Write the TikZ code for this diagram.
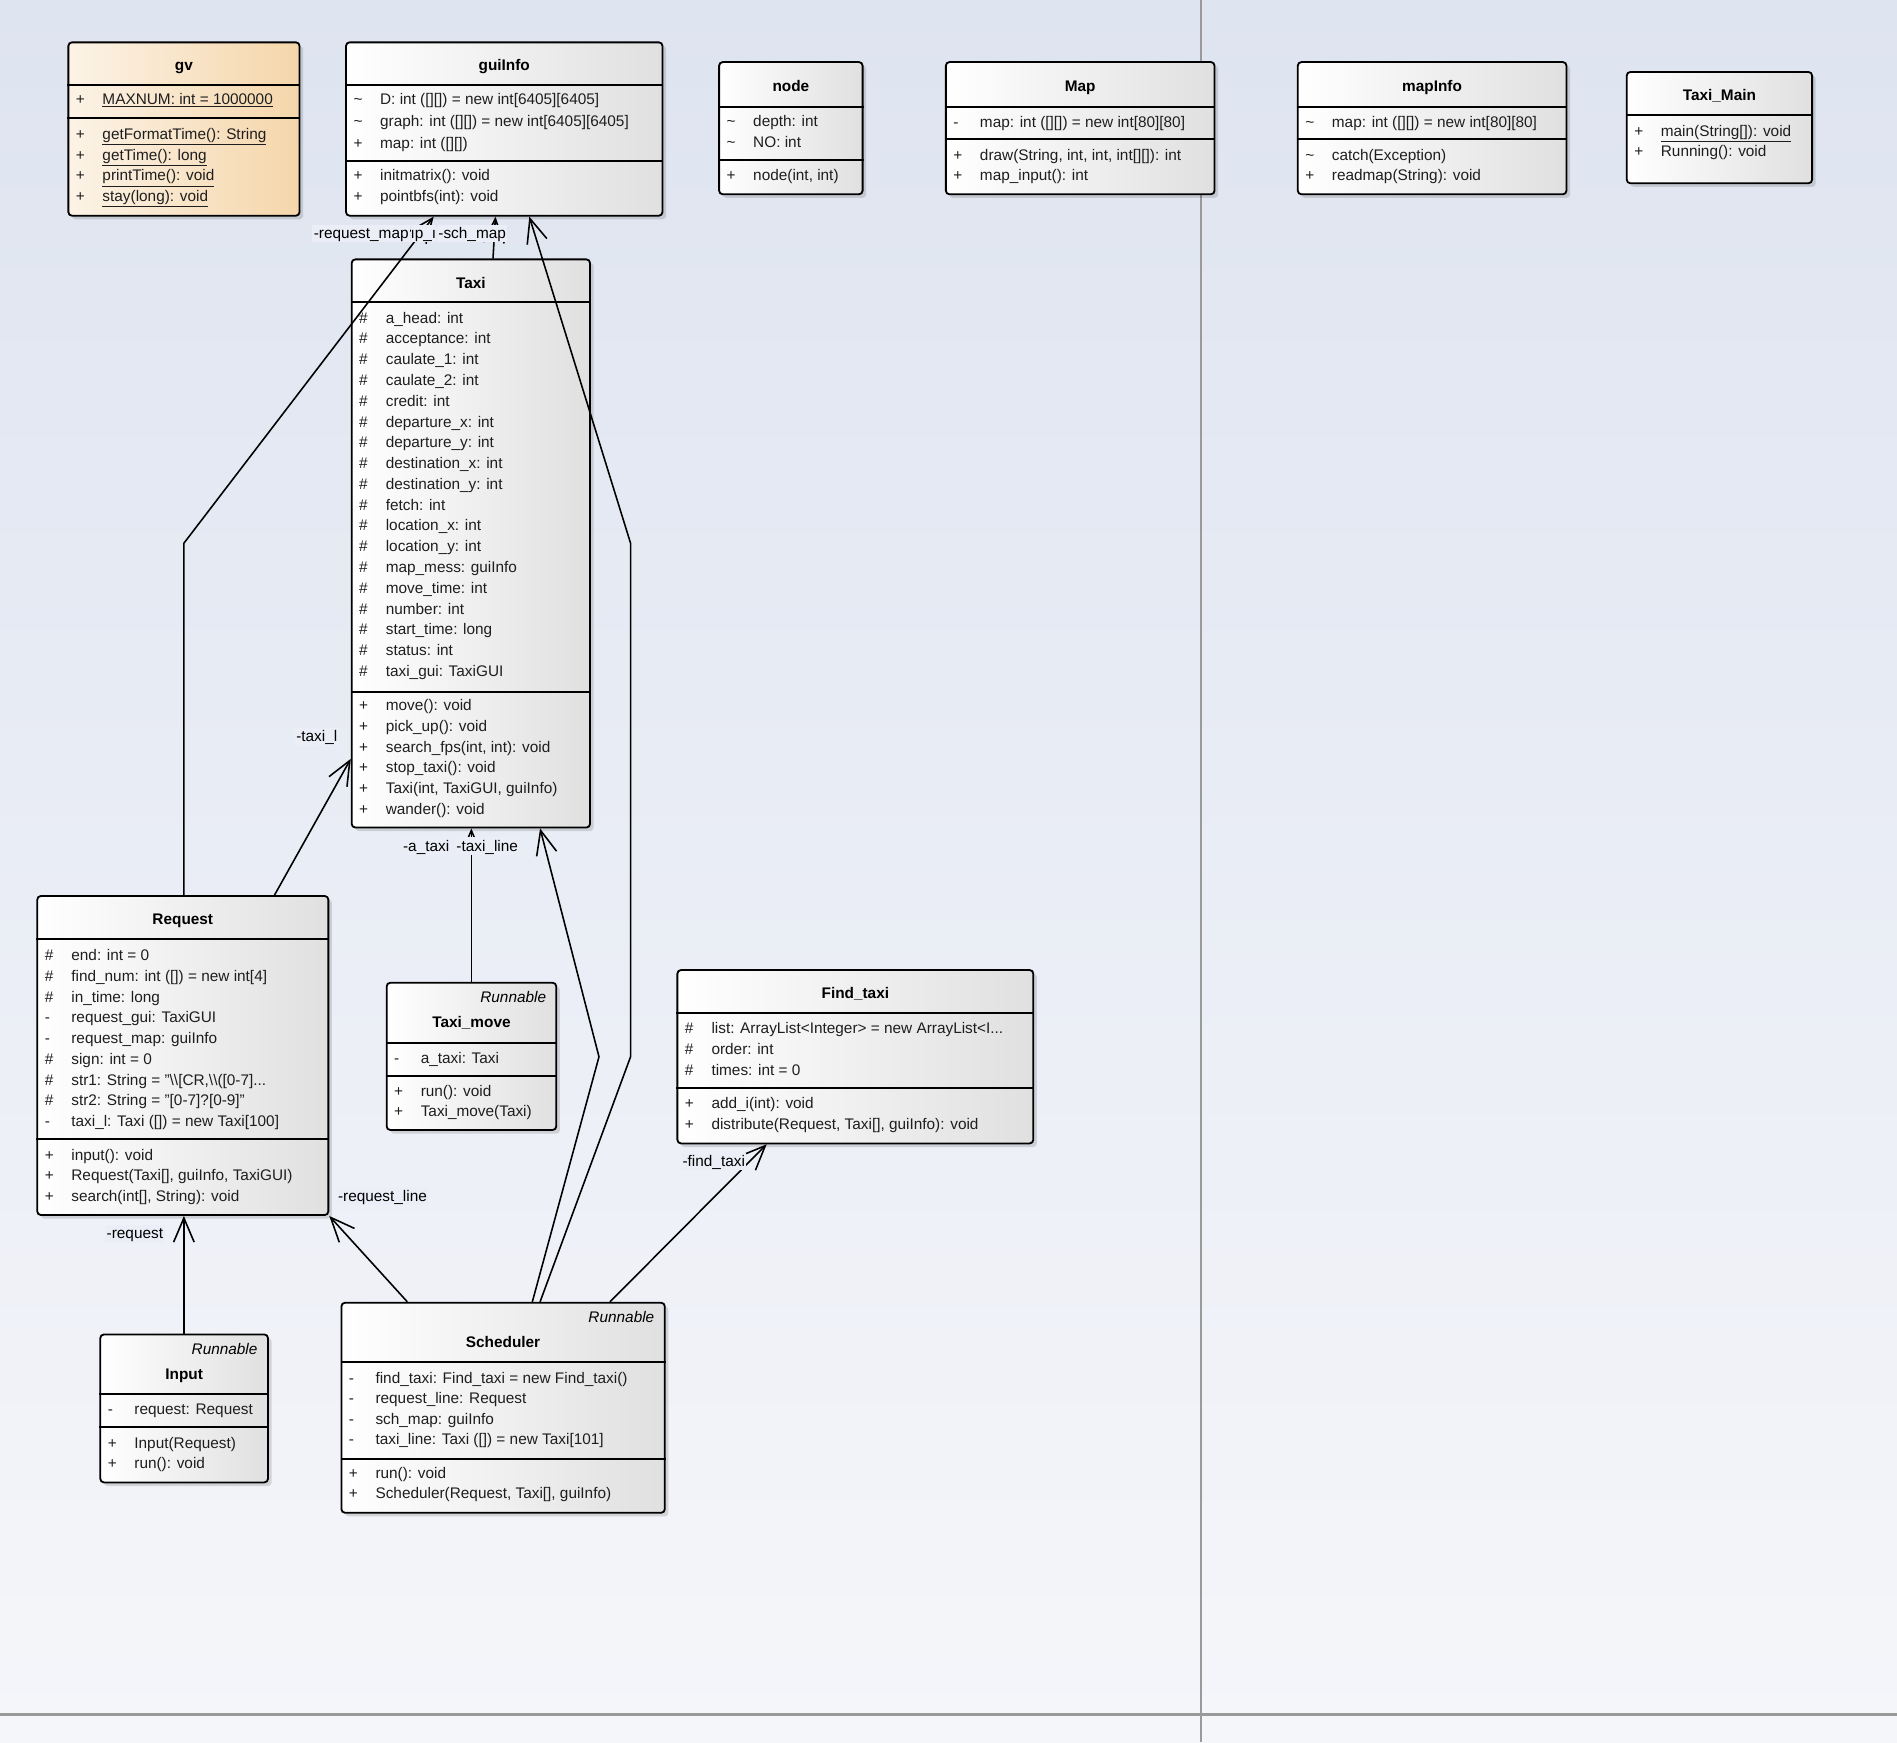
\documentclass[tikz,border=0pt]{standalone}
\usepackage{fontspec}
\setmainfont{Liberation Sans}
\usetikzlibrary{arrows.meta,shadows,fit,calc}
\definecolor{bgtop}{HTML}{DEE4F0}
\definecolor{bgbot}{HTML}{F5F6FA}
\definecolor{boxright}{HTML}{E0E0E0}
\definecolor{gvleft}{HTML}{FCF3E7}
\definecolor{gvright}{HTML}{F5D6AA}
\definecolor{txtc}{HTML}{1E1E1E}
\definecolor{lblbg}{HTML}{EBEEF6}
\definecolor{sepline}{HTML}{9A9A9A}
\tikzset{
  classbox/.style={draw=black, line width=1.5pt, rounded corners=3pt, inner sep=0pt,
    left color=white, right color=boxright,
    drop shadow={shadow xshift=3pt, shadow yshift=-3pt, fill=black, opacity=0.13}},
  gvbox/.style={classbox, left color=gvleft, right color=gvright},
  visn/.style={anchor=west, inner sep=0pt, text height=10pt, text depth=2pt, text=txtc},
  memn/.style={visn},
  titlen/.style={inner sep=0pt, text height=10pt, text depth=2pt, font=\fontsize{12.7}{15}\selectfont\bfseries},
  stereo/.style={anchor=east, inner sep=0pt, text height=10pt, text depth=2pt, font=\fontsize{12.7}{15}\selectfont\itshape},
  lbl/.style={anchor=west, fill=lblbg, inner sep=1.2pt, text height=10pt, text depth=2pt},
  divl/.style={line width=1.5pt},
  assoc/.style={line width=1.3pt, -{Straight Barb[length=20pt,width=17pt]}},
}
\newcommand\members[5]{%
  \foreach \mvis/\mtxt [count=\ii] in {#5} {
    \node[visn] (#1v\ii) at ({#2+6},{#3+#4*(\ii-1)}) {\mvis};
    \node[memn] (#1t\ii) at ({#2+28},{#3+#4*(\ii-1)}) {\mtxt};
  }}
\newcommand\divider[2]{\draw[divl] (#1.west |- 0,#2) -- (#1.east |- 0,#2);}
\begin{document}
\begin{tikzpicture}[x=1pt,y=-1pt,font=\fontsize{12.7}{15}\selectfont]
\useasboundingbox (0,0) rectangle (1568,1440);
% background
\shade[top color=bgtop, bottom color=bgbot] (0,0) rectangle (1568,1440);
\draw[sepline, line width=1.8pt] (993,0) -- (993,1440);
\draw[sepline, line width=2.2pt] (0,1417.3) -- (1568,1417.3);

% ---------- gv ----------
\node[gvbox, fit={(56.5,35) (247.6,178.3)}] (gv) {};
\node[titlen] (gvtitle) at (152,54.3) {gv};
\divider{gv}{70.5}\divider{gv}{97.8}
\members{gva}{56.5}{82.7}{17}{+/{\underline{MAXNUM: int = 1000000}}}
\members{gvm}{56.5}{111.6}{17}{+/{\underline{getFormatTime(): String}},+/{\underline{getTime(): long}},+/{\underline{printTime(): void}},+/{\underline{stay(long): void}}}

% ---------- guiInfo ----------
\node[classbox, fit={(286,35) (547.6,178.3)}] (gui) {};
\node[titlen] (guititle) at (416.8,54.3) {guiInfo};
\divider{gui}{70.5}\divider{gui}{132.8}
\members{guia}{286}{82.7}{17.9}{\textasciitilde/{D: int ([][]) = new int[6405][6405]},\textasciitilde/{graph: int ([][]) = new int[6405][6405]},+/{map: int ([][])}}
\members{guim}{286}{145.2}{17.4}{+/{initmatrix(): void},+/{pointbfs(int): void}}

% ---------- node ----------
\node[classbox, fit={(594.4,51.3) (713,160.6)}] (nodecl) {};
\node[titlen] (nodetitle) at (653.7,71.9) {node};
\divider{nodecl}{88.2}\divider{nodecl}{132.5}
\members{nodea}{594.4}{100.6}{17.3}{\textasciitilde/{depth: int},\textasciitilde/{NO: int}}
\members{nodem}{594.4}{145.5}{17}{+/{node(int, int)}}

% ---------- Map ----------
\node[classbox, fit={(781.8,51.3) (1003.9,160.6)}] (map) {};
\node[titlen] (maptitle) at (892.8,71.9) {Map};
\divider{map}{88.2}\divider{map}{115.2}
\members{mapa}{781.8}{101.4}{17}{-/{map: int ([][]) = new int[80][80]}}
\members{mapm}{781.8}{129}{16.5}{+/{draw(String, int, int, int[][]): int},+/{map\_input(): int}}

% ---------- mapInfo ----------
\node[classbox, fit={(1072.7,51.3) (1294.8,160.6)}] (mapinfo) {};
\node[titlen] (mapinfotitle) at (1183.7,71.9) {mapInfo};
\divider{mapinfo}{88.2}\divider{mapinfo}{115.2}
\members{mia}{1072.7}{101.4}{17}{\textasciitilde/{map: int ([][]) = new int[80][80]}}
\members{mim}{1072.7}{129}{16.5}{\textasciitilde/{catch(Exception)},+/{readmap(String): void}}

% ---------- Taxi_Main ----------
\node[classbox, fit={(1344.6,59.5) (1497.8,151.5)}] (taximain) {};
\node[titlen] (taximaintitle) at (1421.2,79.1) {Taxi\_Main};
\divider{taximain}{95.3}
\members{tmm}{1344.6}{108.8}{16.6}{+/{\underline{main(String[]): void}},+/{Running(): void}}

% ---------- Taxi ----------
\node[classbox, fit={(290.7,214.4) (487.7,684)}] (taxi) {};
\node[titlen] (taxititle) at (389.2,234.2) {Taxi};
\divider{taxi}{249.9}\divider{taxi}{571.7}
\members{taxia}{290.7}{263.1}{17.18}{\#/{a\_head: int},\#/{acceptance: int},\#/{caulate\_1: int},\#/{caulate\_2: int},\#/{credit: int},\#/{departure\_x: int},\#/{departure\_y: int},\#/{destination\_x: int},\#/{destination\_y: int},\#/{fetch: int},\#/{location\_x: int},\#/{location\_y: int},\#/{map\_mess: guiInfo},\#/{move\_time: int},\#/{number: int},\#/{start\_time: long},\#/{status: int},\#/{taxi\_gui: TaxiGUI}}
\members{taxim}{290.7}{583.3}{17.14}{+/{move(): void},+/{pick\_up(): void},+/{search\_fps(int, int): void},+/{stop\_taxi(): void},+/{Taxi(int, TaxiGUI, guiInfo)},+/{wander(): void}}

% ---------- Request ----------
\node[classbox, fit={(30.8,740.6) (271.4,1004.3)}] (request) {};
\node[titlen] (requesttitle) at (151.1,759.9) {Request};
\divider{request}{775.9}\divider{request}{941.5}
\members{reqa}{30.8}{790}{17.15}{\#/{end: int = 0},\#/{find\_num: int ([]) = new int[4]},\#/{in\_time: long},-/{request\_gui: TaxiGUI},-/{request\_map: guiInfo},\#/{sign: int = 0},\#/{str1: String = "\textbackslash\textbackslash[CR,\textbackslash\textbackslash([0-7]...},\#/{str2: String = "[0-7]?[0-9]"},-/{taxi\_l: Taxi ([]) = new Taxi[100]}}
\members{reqm}{30.8}{955.3}{16.7}{+/{input(): void},+/{Request(Taxi[], guiInfo, TaxiGUI)},+/{search(int[], String): void}}

% ---------- Taxi_move ----------
\node[classbox, fit={(319.6,812.3) (459.8,934)}] (taximove) {};
\node[stereo] (taximovest) at (451.6,824.5) {Runnable};
\node[titlen] (taximovetitle) at (389.7,845.4) {Taxi\_move};
\divider{taximove}{861.9}\divider{taximove}{889.1}
\members{tmva}{319.6}{875.4}{17}{-/{a\_taxi: Taxi}}
\members{tmvm}{319.6}{902.1}{16.5}{+/{run(): void},+/{Taxi\_move(Taxi)}}

% ---------- Find_taxi ----------
\node[classbox, fit={(559.9,801.8) (854.1,945.1)}] (findtaxi) {};
\node[titlen] (findtaxititle) at (707,821.1) {Find\_taxi};
\divider{findtaxi}{837.1}\divider{findtaxi}{899.6}
\members{fta}{559.9}{850.6}{17}{\#/{list: ArrayList<Integer> = new ArrayList<I...},\#/{order: int},\#/{times: int = 0}}
\members{ftm}{559.9}{912}{17.4}{+/{add\_i(int): void},+/{distribute(Request, Taxi[], guiInfo): void}}

% ---------- Input ----------
\node[classbox, fit={(82.9,1103) (221.5,1225.3)}] (input) {};
\node[stereo] (inputst) at (213,1115.9) {Runnable};
\node[titlen] (inputtitle) at (152.2,1136.6) {Input};
\divider{input}{1152.3}\divider{input}{1179.5}
\members{ina}{82.9}{1165}{17}{-/{request: Request}}
\members{inm}{82.9}{1193.6}{16.5}{+/{Input(Request)},+/{run(): void}}

% ---------- Scheduler ----------
\node[classbox, fit={(282.2,1076.8) (549.5,1250.4)}] (scheduler) {};
\node[stereo] (schedst) at (541,1088.9) {Runnable};
\node[titlen] (schedtitle) at (415.8,1109.6) {Scheduler};
\divider{scheduler}{1125.6}\divider{scheduler}{1206}
\members{scha}{282.2}{1139.3}{17}{-/{find\_taxi: Find\_taxi = new Find\_taxi()},-/{request\_line: Request},-/{sch\_map: guiInfo},-/{taxi\_line: Taxi ([]) = new Taxi[101]}}
\members{schm}{282.2}{1217.9}{17.1}{+/{run(): void},+/{Scheduler(Request, Taxi[], guiInfo)}}

% ---------- connectors ----------
\draw[assoc] (152,0 |- request.north) -- (152,449) -- (358.5,0 |- gui.south);
\draw[assoc] (407.5,0 |- taxi.north) -- (409.5,0 |- gui.south);
\draw[assoc] (446.4,0 |- scheduler.north) -- (521.2,873.5) -- (521.2,449) -- (437.5,0 |- gui.south);
\draw[assoc] (226.9,0 |- request.north) -- (taxi.west |- 0,627.2);
\draw[assoc] (389.6,0 |- taximove.north) -- (389.6,0 |- taxi.south);
\draw[assoc] (440,0 |- scheduler.north) -- (495.1,873.5) -- (446.4,0 |- taxi.south);
\draw[assoc] (336.7,0 |- scheduler.north) -- (request.south east);
\draw[assoc] (504.2,0 |- scheduler.north) -- (633.7,0 |- findtaxi.south);
\draw[assoc] (152,0 |- input.north) -- (152,0 |- request.south);

% ---------- labels ----------
\node[lbl] (lreqmap) at (258,192.9) {-request\_map};
\node[lbl, inner xsep=0pt] (lmapmess) at (339.2,192.9) {ıp\_ı};
\node[lbl] (lschmap) at (361,192.9) {-sch\_map};
\node[lbl] (ltaxil) at (243.5,609.3) {-taxi\_l};
\node[lbl] (lataxi) at (331.8,699.4) {-a\_taxi};
\node[lbl] (ltaxiline) at (375.9,699.4) {-taxi\_line};
\node[lbl] (lreqline) at (278,989.2) {-request\_line};
\node[lbl] (lfindtaxi) at (562.8,960) {-find\_taxi};
\node[lbl] (lrequest) at (86.8,1020) {-request};
\end{tikzpicture}
\end{document}
